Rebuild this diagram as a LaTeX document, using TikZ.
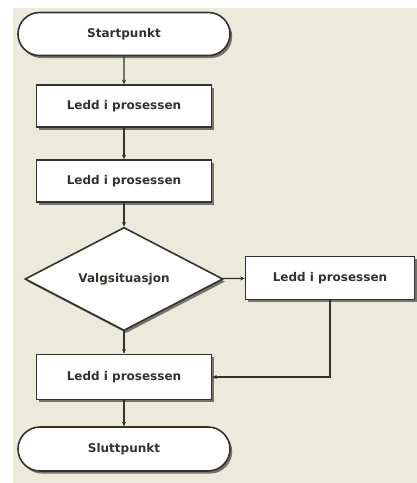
\documentclass[tikz,border=0pt]{standalone}
\usepackage{fontspec}
\setmainfont{DejaVu Sans}
\usetikzlibrary{shapes.geometric,shapes.misc,shadows,arrows.meta}
\newlength{\du}
\setlength{\du}{1pt}
\definecolor{dialinecolor}{rgb}{0.200000, 0.200000, 0.180000}
\definecolor{bakgrunn}{rgb}{0.925000, 0.918000, 0.863000}
\tikzset{
  skygge/.style={drop shadow={shadow xshift=2.2\du, shadow yshift=-2.6\du, opacity=0.5, fill=black}},
  ledd/.style={rectangle, draw=dialinecolor, fill=white, line width=1.6\du, minimum height=42\du, inner sep=0pt, skygge,
    font=\fontsize{12}{14}\selectfont\bfseries, text=dialinecolor},
  endepunkt/.style={ledd, rounded rectangle, minimum width=212\du, minimum height=43\du},
  valg/.style={ledd, diamond, minimum width=198\du, minimum height=95\du},
  pil/.style={draw=dialinecolor, line width=1.3\du, -{Stealth[length=4.5pt,width=4pt]}}
}
\begin{document}
\begin{tikzpicture}
\useasboundingbox (0\du,0\du) rectangle (417\du,-483\du);
\fill[bakgrunn] (13\du,-8\du) rectangle (417\du,-483\du);
% setfont left to latex
\node[endepunkt] (start) at (124\du,-34\du) {Startpunkt};
\node[ledd, minimum width=175\du] (ledd1) at (124\du,-106\du) {Ledd i prosessen};
\node[ledd, minimum width=175\du] (ledd2) at (124\du,-181\du) {Ledd i prosessen};
\node[valg] (valgsit) at (124\du,-279\du) {\raisebox{3\du}{Valgsituasjon}};
\node[ledd, minimum width=169\du, minimum height=43\du] (ledd3) at (330\du,-278\du) {Ledd i prosessen};
\node[ledd, minimum width=175\du, minimum height=45\du] (ledd4) at (124\du,-377\du) {Ledd i prosessen};
\node[endepunkt, minimum height=44\du] (slutt) at (124\du,-449\du) {Sluttpunkt};
% piler
\draw[pil] (start) -- (ledd1);
\draw[pil] (ledd1) -- (ledd2);
\draw[pil] (ledd2) -- (valgsit);
\draw[pil] (valgsit) -- (ledd3);
\draw[pil] (valgsit) -- (ledd4);
\draw[pil] (ledd3.south) |- (ledd4.east);
\draw[pil] (ledd4) -- (slutt);
\end{tikzpicture}
\end{document}
